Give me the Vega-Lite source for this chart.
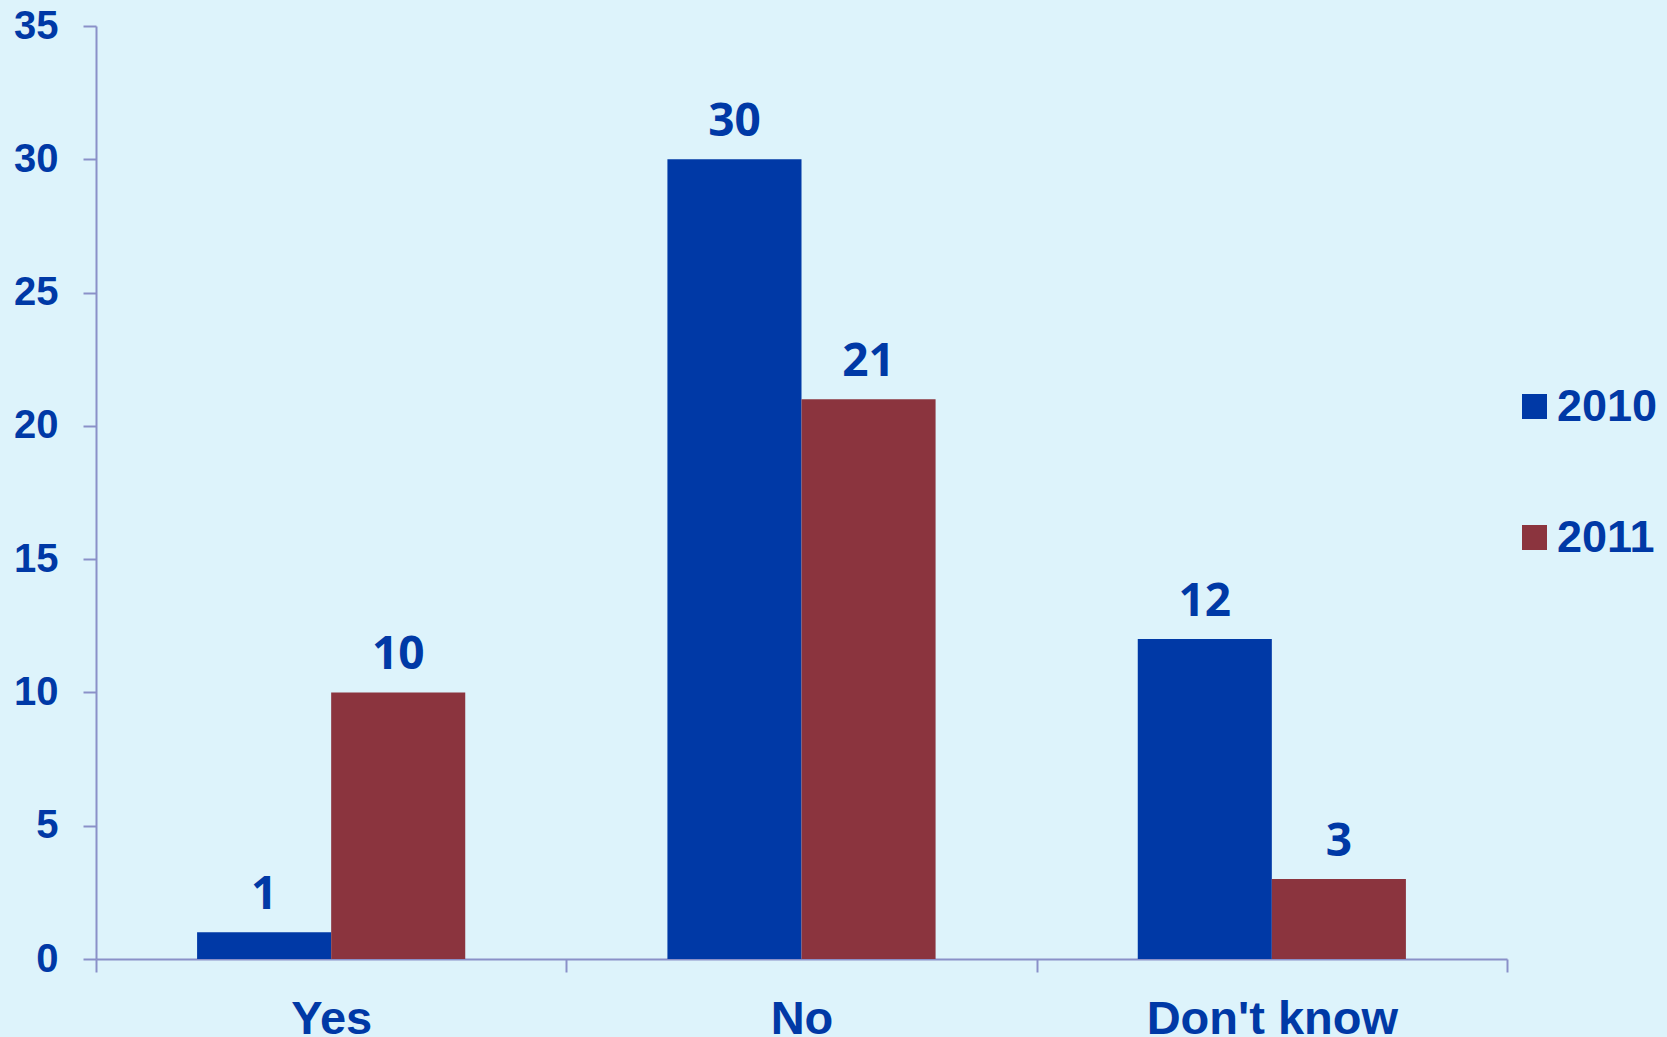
{
  "$schema": "https://vega.github.io/schema/vega-lite/v6.json",
  "autosize": "none",
  "width": 1411,
  "height": 933,
  "padding": {"left": 96, "top": 26, "right": 160, "bottom": 78},
  "background": "#DDF3FB",
  "config": {"view": {"stroke": null}},
  "data": {
    "values": [
      {"answer": "Yes", "year": "2010", "count": 1},
      {"answer": "Yes", "year": "2011", "count": 10},
      {"answer": "No", "year": "2010", "count": 30},
      {"answer": "No", "year": "2011", "count": 21},
      {"answer": "Don't know", "year": "2010", "count": 12},
      {"answer": "Don't know", "year": "2011", "count": 3}
    ]
  },
  "encoding": {
    "x": {
      "field": "answer",
      "type": "nominal",
      "sort": ["Yes", "No", "Don't know"],
      "scale": {"paddingInner": 0, "paddingOuter": 0},
      "axis": {
        "title": null,
        "labelAngle": 0,
        "tickBand": "extent",
        "labelLimit": 0,
        "labelFont": "Liberation Sans",
        "labelFontWeight": "bold",
        "labelFontSize": 47,
        "labelColor": "#0039A6",
        "labelPadding": 24,
        "labelBaseline": "top",
        "domainColor": "#8A90C8",
        "domainWidth": 2,
        "tickColor": "#8A90C8",
        "tickWidth": 2,
        "tickSize": 13,
        "grid": false
      }
    },
    "xOffset": {"field": "year", "type": "nominal", "scale": {"paddingInner": 0, "paddingOuter": 0.754}},
    "y": {
      "field": "count",
      "type": "quantitative",
      "scale": {"domain": [0, 35], "nice": false},
      "axis": {
        "title": null,
        "values": [0, 5, 10, 15, 20, 25, 30, 35],
        "labelFont": "Liberation Sans",
        "labelFontWeight": "bold",
        "labelFontSize": 40,
        "labelColor": "#0039A6",
        "labelPadding": 25,
        "domainColor": "#8A90C8",
        "domainWidth": 2,
        "tickColor": "#8A90C8",
        "tickWidth": 2,
        "tickSize": 13,
        "grid": false
      }
    }
  },
  "layer": [
    {
      "mark": {"type": "bar"},
      "encoding": {
        "color": {
          "field": "year",
          "type": "nominal",
          "scale": {"domain": ["2010", "2011"], "range": ["#0039A6", "#8B343E"]},
          "legend": {
            "title": null,
            "orient": "none",
            "legendX": 1416,
            "legendY": 358,
            "padding": 0,
            "symbolType": "square",
            "symbolSize": 625,
            "symbolStrokeWidth": 0,
            "labelFont": "Liberation Sans",
            "labelFontWeight": "bold",
            "labelFontSize": 45,
            "labelColor": "#0039A6",
            "labelOffset": 0,
            "labelLimit": 0,
            "rowPadding": 85
          }
        }
      }
    },
    {
      "mark": {"type": "text", "baseline": "alphabetic", "dy": -23, "font": "Open Sans", "fontWeight": "bold", "fontSize": 46, "color": "#0039A6"},
      "encoding": {"text": {"field": "count", "type": "quantitative"}}
    }
  ]
}
